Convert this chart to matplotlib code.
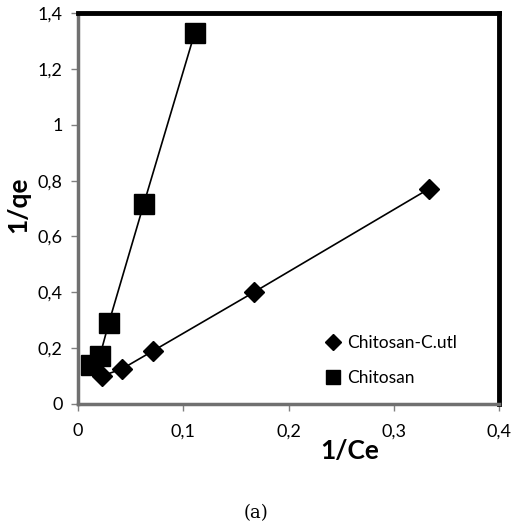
import matplotlib
matplotlib.use("Agg")
import matplotlib.pyplot as plt
from matplotlib.lines import Line2D

utl_x = [0.333, 0.167, 0.0714, 0.0417, 0.0227]
utl_y = [0.77, 0.40, 0.19, 0.125, 0.10]
chi_x = [0.111, 0.0625, 0.0294, 0.0208, 0.0125]
chi_y = [1.33, 0.715, 0.29, 0.17, 0.14]
xticks = [0, 0.1, 0.2, 0.3, 0.4]
xticklabels = ["0", "0,1", "0,2", "0,3", "0,4"]
yticks = [0, 0.2, 0.4, 0.6, 0.8, 1.0, 1.2, 1.4]
yticklabels = ["0", "0,2", "0,4", "0,6", "0,8", "1", "1,2", "1,4"]

plt.rcParams['font.family'] = ['Lato', 'DejaVu Sans']

fig = plt.figure(figsize=(5.12, 5.28), dpi=100)
ax = fig.add_axes([0.152, 0.235, 0.823, 0.740])

ax.plot(utl_x, utl_y, color='black', lw=1.2, marker='D', ms=10.5, mfc='black', mec='black', zorder=3)
ax.plot(chi_x, chi_y, color='black', lw=1.2, marker='s', ms=14, mfc='black', mec='black', zorder=3)

ax.set_xlim(0, 0.4)
ax.set_ylim(0, 1.4)
ax.set_xticks(xticks)
ax.set_xticklabels(xticklabels)
ax.set_yticks(yticks)
ax.set_yticklabels(yticklabels)
ax.tick_params(axis='both', direction='out', length=5, width=1, color='#808080', labelsize=13)
ax.tick_params(axis='x', pad=9)
ax.tick_params(axis='y', pad=6)

for s in ['left', 'bottom']:
    ax.spines[s].set_color('#707070')
    ax.spines[s].set_linewidth(2.5)
for s in ['top', 'right']:
    ax.spines[s].set_color('black')
    ax.spines[s].set_linewidth(3.5)

ax.text(0.646, -0.12, '1/Ce', transform=ax.transAxes, fontsize=19, fontweight='bold',
        ha='center', va='center')
ax.set_ylabel('1/qe', fontsize=19, fontweight='bold')
ax.yaxis.set_label_coords(-0.114, 0.51)

handles = [Line2D([], [], ls='none', marker='D', ms=8, color='black'),
           Line2D([], [], ls='none', marker='s', ms=10, color='black')]
ax.legend(handles, ['Chitosan-C.utl', 'Chitosan'], loc='center left',
          bbox_to_anchor=(0.594, 0.111), frameon=False, fontsize=12.5,
          borderpad=0, borderaxespad=0,
          handlelength=0.6, handletextpad=0.5, labelspacing=1.05)

fig.text(0.5, 0.028, '(a)', ha='center', va='center', fontsize=13, family='DejaVu Serif')

fig.savefig('out.png', dpi=100)
